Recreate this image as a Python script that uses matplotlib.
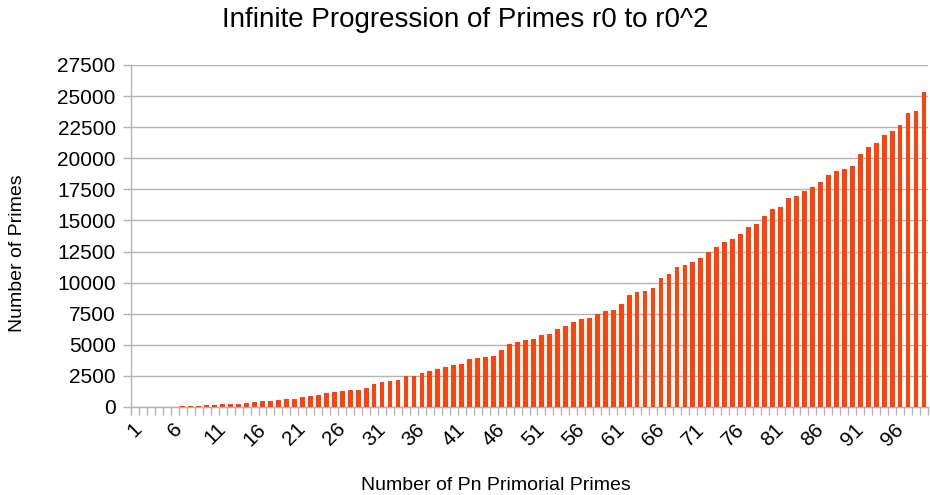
import matplotlib
matplotlib.use("Agg")
import matplotlib.pyplot as plt
import numpy as np

plt.rcParams['font.family'] = ['Liberation Sans', 'DejaVu Sans']

title = "Infinite Progression of Primes r0 to r0^2"
x_label = "Number of Pn Primorial Primes"
y_label = "Number of Primes"

categories = list(range(1, 101))
counts = [
    1, 2, 6, 11, 25, 33, 54, 64, 90, 136,
    151, 206, 250, 269, 314, 392, 470, 501, 588, 655,
    679, 790, 865, 975, 1138, 1224, 1267, 1354, 1397, 1493,
    1850, 1980, 2110, 2165, 2460, 2510, 2700, 2890, 3020, 3210,
    3400, 3480, 3850, 3930, 4060, 4120, 4600, 5050, 5240, 5350,
    5480, 5750, 5860, 6260, 6520, 6810, 7100, 7180, 7470, 7690,
    7770, 8280, 9030, 9250, 9360, 9570, 10380, 10700, 11290, 11400,
    11640, 12020, 12500, 12880, 13260, 13500, 13900, 14440, 14740, 15320,
    15950, 16110, 16800, 16940, 17360, 17650, 18080, 18660, 18980, 19110,
    19400, 20330, 20940, 21260, 21900, 22220, 22690, 23680, 23830, 25320,
]
y_ticks = list(range(0, 27501, 2500))
x_tick_labels = [str(c) for c in categories if (c - 1) % 5 == 0]

fig = plt.figure(figsize=(9.3, 4.95), dpi=100)
ax = fig.add_axes([131/930, 1 - 407/495, (928 - 131)/930, (407 - 65)/495])

pos = np.arange(len(categories))
ax.bar(pos, counts, width=0.6, color='#FF420E', zorder=3)

ax.set_xlim(-0.5, len(categories) - 0.5)
ax.set_ylim(0, 27500)
ax.set_yticks(y_ticks)
ax.set_yticklabels([str(v) for v in y_ticks], fontsize=15)
ax.yaxis.grid(True, color='#b3b3b3', linewidth=1.0, zorder=0)
ax.set_axisbelow(True)

major_pos = [i for i, c in enumerate(categories) if (c - 1) % 5 == 0]
ax.set_xticks(major_pos)
ax.set_xticklabels(x_tick_labels, rotation=45, ha='center', va='top', fontsize=15)
ax.set_xticks(np.arange(-0.5, len(categories) + 0.5, 1), minor=True)
ax.tick_params(axis='x', which='major', length=0, pad=9)
ax.tick_params(axis='x', which='minor', length=6, color='#b3b3b3', width=1)
ax.tick_params(axis='y', length=6, color='#b3b3b3', width=1, pad=5)

for s in ['top', 'right']:
    ax.spines[s].set_visible(False)
for s in ['left', 'bottom']:
    ax.spines[s].set_color('#b3b3b3')
    ax.spines[s].set_linewidth(1)

fig.text(465/930, 1 - 20/495, title, ha='center', va='center', fontsize=20)
fig.text(496/930, 1 - 485/495, x_label, ha='center', va='center', fontsize=14)
fig.text(18/930, 1 - 253/495, y_label, ha='center', va='center', rotation=90, fontsize=14)

fig.savefig('out.png', dpi=100)
